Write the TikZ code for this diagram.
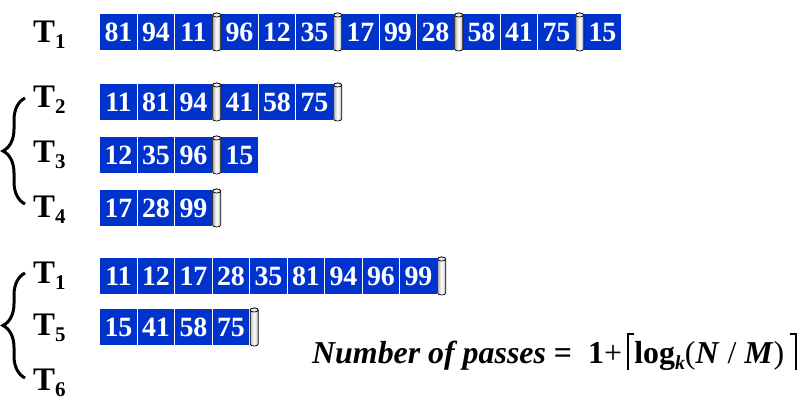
\documentclass[tikz,border=0pt]{standalone}
\usepackage{fontspec}
\setmainfont{Liberation Serif}
\usetikzlibrary{positioning,decorations.pathreplacing}

\definecolor{tapeblue}{RGB}{0,51,204}
\newcommand{\tp}[1]{T\raisebox{-7pt}{\fontsize{21}{21}\selectfont #1}}
\newcommand{\lceilbar}{\rule[-7pt]{1.5pt}{37pt}\rule[28.5pt]{5.5pt}{1.5pt}}
\newcommand{\rceilbar}{\rule[28.5pt]{5.5pt}{1.5pt}\rule[-7pt]{1.5pt}{37pt}}

\begin{document}
\begin{tikzpicture}[x=1bp,y=-1bp,
        cell/.style={fill=tapeblue, text=white, anchor=north west, minimum width=36.5bp, minimum height=36bp, inner sep=0pt, font=\fontsize{28}{28}\selectfont\bfseries},
        tlab/.style={anchor=base west, inner sep=0pt, font=\fontsize{33}{33}\selectfont\bfseries},
        grp/.style={decorate, decoration={brace,amplitude=22bp,aspect=0.5}, line width=3bp}]
        \useasboundingbox (0,0) rectangle (808,418);

        % runs of records: row/top/left/values
        \foreach \r/\y/\x/\vals in {a/14/100/{81,94,11}, a/14/221/{96,12,35}, a/14/342/{17,99,28}, a/14/463/{58,41,75}, a/14/584/{15},
                                    b/84/100/{11,81,94}, b/84/221/{41,58,75},
                                    c/137/100/{12,35,96}, c/137/221/{15},
                                    d/190/100/{17,28,99},
                                    e/258/100/{11,12,17,28,35,81,94,96,99},
                                    f/309/100/{15,41,58,75}}
            \foreach \v [count=\i from 0] in \vals
                \node[cell] (\r-\v) at (\x+\i*37.5,\y) {\v};

        % end-of-run markers
        \foreach \c in {a-11,a-35,a-28,a-75,b-94,b-75,c-96,d-99,e-99,f-75}
        {
            \begin{scope}[shift={(\c.north east)}]
                \shade[left color=gray!55, right color=gray!55, middle color=white, draw=black, line width=0.7bp]
                    (0.75,1) -- (0.75,35) arc[start angle=180, end angle=0, x radius=4, y radius=2]
                    -- (8.75,1) arc[start angle=0, end angle=-180, x radius=4, y radius=2] -- cycle;
                \draw[fill=gray!15, line width=0.7bp] (4.75,1) ellipse[x radius=4, y radius=2];
            \end{scope}
        }

        \node[tlab] (t1) at (33,42) {\tp{1}};
        \node[tlab] (t2) at (33,107) {\tp{2}};
        \node[tlab] (t3) at (33,162) {\tp{3}};
        \node[tlab] (t4) at (33,217) {\tp{4}};
        \node[tlab] (t1b) at (33,283) {\tp{1}};
        \node[tlab] (t5) at (33,335) {\tp{5}};
        \node[tlab] (t6) at (33,390) {\tp{6}};

        \draw[grp] (25,204) -- (25,98);
        \draw[grp] (25,378) -- (25,273);

        \node[anchor=base west, inner sep=0pt, font=\fontsize{32}{32}\selectfont] (passes) at (312,363)
            {\textbf{\textit{Number of passes}} \textbf{=} \ \textbf{1}+\,\lceilbar\textbf{log}\raisebox{-7pt}{\fontsize{20}{20}\selectfont\textbf{\textit{k}}}(\textbf{\textit{N}} / \textbf{\textit{M}})\,\rceilbar};
\end{tikzpicture}
\end{document}
